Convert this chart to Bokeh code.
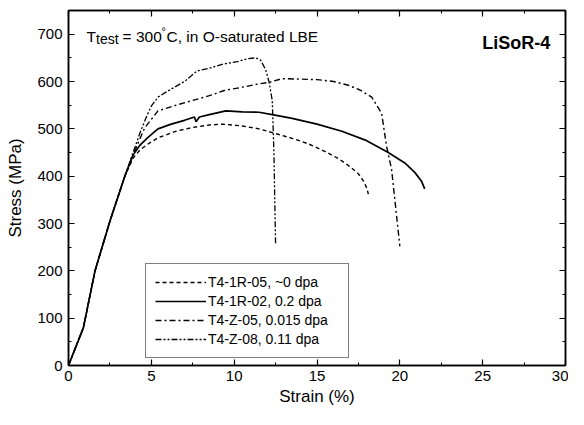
from bokeh.plotting import figure
from bokeh.models import (Range1d, FixedTicker, LinearAxis, Legend, LegendItem, Label)
from bokeh.embed import file_html
from bokeh.resources import INLINE

# ---- data ----
s_1r05 = [0, 0.9, 1.6, 2.5, 3.4, 3.9, 4.3, 4.8, 5.4, 6.5, 7.5, 8.5, 9.3, 10.5, 11.5,
          12.5, 13.5, 14.5, 15.5, 16.3, 17.0, 17.5, 17.8, 18.0, 18.1]
t_1r05 = [0, 80, 200, 305, 400, 438, 455, 468, 481, 495, 503, 508, 510, 506, 500,
          490, 480, 468, 452, 437, 420, 405, 390, 375, 362]

s_1r02 = [0, 0.9, 1.6, 2.5, 3.4, 3.9, 4.3, 4.8, 5.4, 6.2, 7.0, 7.6, 7.7, 7.9, 8.5,
          9.5, 10.5, 11.5, 12.3, 13.5, 15.0, 16.5, 18.0, 19.3, 20.3, 20.9, 21.3, 21.5]
t_1r02 = [0, 80, 200, 305, 400, 445, 465, 482, 500, 510, 518, 525, 515, 525, 530,
          538, 536, 535, 530, 522, 510, 495, 475, 450, 428, 408, 390, 373]

s_z05 = [0, 0.9, 1.6, 2.5, 3.4, 3.9, 4.3, 4.6, 5.4, 6.5, 7.5, 8.5, 9.4, 10.5, 11.5,
         12.1, 12.9, 14.0, 15.0, 16.0, 16.9, 17.6, 18.3, 18.9, 19.2, 19.5, 19.7, 20.0]
t_z05 = [0, 80, 200, 305, 400, 445, 478, 502, 538, 550, 560, 570, 581, 588, 595,
         598, 606, 605, 604, 600, 592, 582, 567, 533, 463, 415, 350, 252]

s_z08 = [0, 0.9, 1.6, 2.5, 3.4, 3.9, 4.3, 4.7, 5.0, 5.4, 6.0, 7.0, 7.75, 8.5, 9.35,
         10.2, 10.8, 11.3, 11.6, 11.9, 12.1, 12.3, 12.4, 12.45, 12.5]
t_z08 = [0, 80, 200, 305, 400, 450, 490, 525, 548, 567, 580, 600, 622, 628, 637,
         642, 648, 650, 645, 625, 600, 560, 450, 350, 255]

labels = ["T4-1R-05, ~0 dpa", "T4-1R-02, 0.2 dpa", "T4-Z-05, 0.015 dpa", "T4-Z-08, 0.11 dpa"]
x_ticks = [0, 5, 10, 15, 20, 25, 30]
x_minor = [2.5, 7.5, 12.5, 17.5, 22.5, 27.5]
y_ticks = [0, 100, 200, 300, 400, 500, 600, 700]
y_minor = [50, 150, 250, 350, 450, 550, 650, 750]

FONT = "Liberation Sans"

p = figure(width=568, height=409, output_backend="svg", toolbar_location=None,
           x_range=Range1d(0, 30), y_range=Range1d(0, 750),
           min_border_left=68, min_border_right=3, min_border_top=10, min_border_bottom=44)
p.xgrid.visible = False
p.ygrid.visible = False
p.outline_line_color = "black"
p.outline_line_width = 1.5
p.background_fill_color = "white"
p.border_fill_color = "white"

xt = FixedTicker(ticks=x_ticks, minor_ticks=x_minor)
yt = FixedTicker(ticks=y_ticks, minor_ticks=y_minor)

def style_axis(ax, ticker, show_labels=True):
    ax.ticker = ticker
    ax.axis_line_color = "black"
    ax.axis_line_width = 1.5
    ax.major_tick_line_color = "black"
    ax.minor_tick_line_color = "black"
    ax.major_tick_line_width = 1.2
    ax.minor_tick_line_width = 1.0
    ax.major_tick_in = 6
    ax.major_tick_out = 0
    ax.minor_tick_in = 3
    ax.minor_tick_out = 0
    ax.major_label_text_font = FONT
    ax.major_label_text_color = "black"
    if show_labels:
        ax.major_label_text_font_size = "15px"
        ax.major_label_standoff = 6
    else:
        ax.major_label_text_font_size = "0px"
        ax.major_label_standoff = 0

style_axis(p.xaxis[0], xt)
style_axis(p.yaxis[0], yt)
p.xaxis.major_label_standoff = 5
p.xaxis.axis_label = "Strain (%)"
p.yaxis.axis_label = "Stress (MPa)"
for ax in (p.xaxis[0], p.yaxis[0]):
    ax.axis_label_text_font = FONT
    ax.axis_label_text_font_size = "17px"
    ax.axis_label_text_font_style = "normal"
    ax.axis_label_text_color = "black"
p.xaxis.axis_label_standoff = 3
p.yaxis.axis_label_standoff = 9

top = LinearAxis()
style_axis(top, xt, show_labels=False)
p.add_layout(top, "above")
right = LinearAxis()
style_axis(right, yt, show_labels=False)
p.add_layout(right, "right")

r1 = p.line(s_1r05, t_1r05, line_color="black", line_width=1.4, line_dash="4 3")
r2 = p.line(s_1r02, t_1r02, line_color="black", line_width=1.7)
r3 = p.line(s_z05, t_z05, line_color="black", line_width=1.4, line_dash="6 3 2 3")
r4 = p.line(s_z08, t_z08, line_color="black", line_width=1.3, line_dash="6 2 2 2 2 2")

legend = Legend(items=[LegendItem(label=labels[i], renderers=[r]) for i, r in enumerate([r1, r2, r3, r4])],
                location=(77, 7), orientation="vertical",
                border_line_color="black", border_line_width=1, background_fill_color="white",
                background_fill_alpha=1.0,
                label_text_font=FONT, label_text_font_size="14px", label_text_color="black",
                glyph_width=51, glyph_height=18, label_height=18, spacing=1, padding=9,
                label_standoff=2, margin=0, label_width=131)
p.add_layout(legend)

# header texts
def lab(text, dx, dy, size, style="normal"):
    p.add_layout(Label(x=1.09, y=696, x_offset=dx, y_offset=dy, text=text,
                       text_font=FONT, text_font_size=size, text_font_style=style,
                       text_color="black", text_baseline="alphabetic", text_align="left"))

lab("T", 0, 0, "15.5px")
lab("test", 9.5, -3, "14px")
lab("= 300", 36, 0, "15.5px")
lab("\u00b0", 75, 5, "11px")
lab("C, in O-saturated LBE", 80, 0, "15.5px")

p.add_layout(Label(x=29.08, y=682, text="LiSoR-4", text_font=FONT, text_font_size="18px",
                   text_font_style="bold", text_color="black", text_align="right",
                   text_baseline="alphabetic"))

open("out.html", "w").write(file_html(p, INLINE))
